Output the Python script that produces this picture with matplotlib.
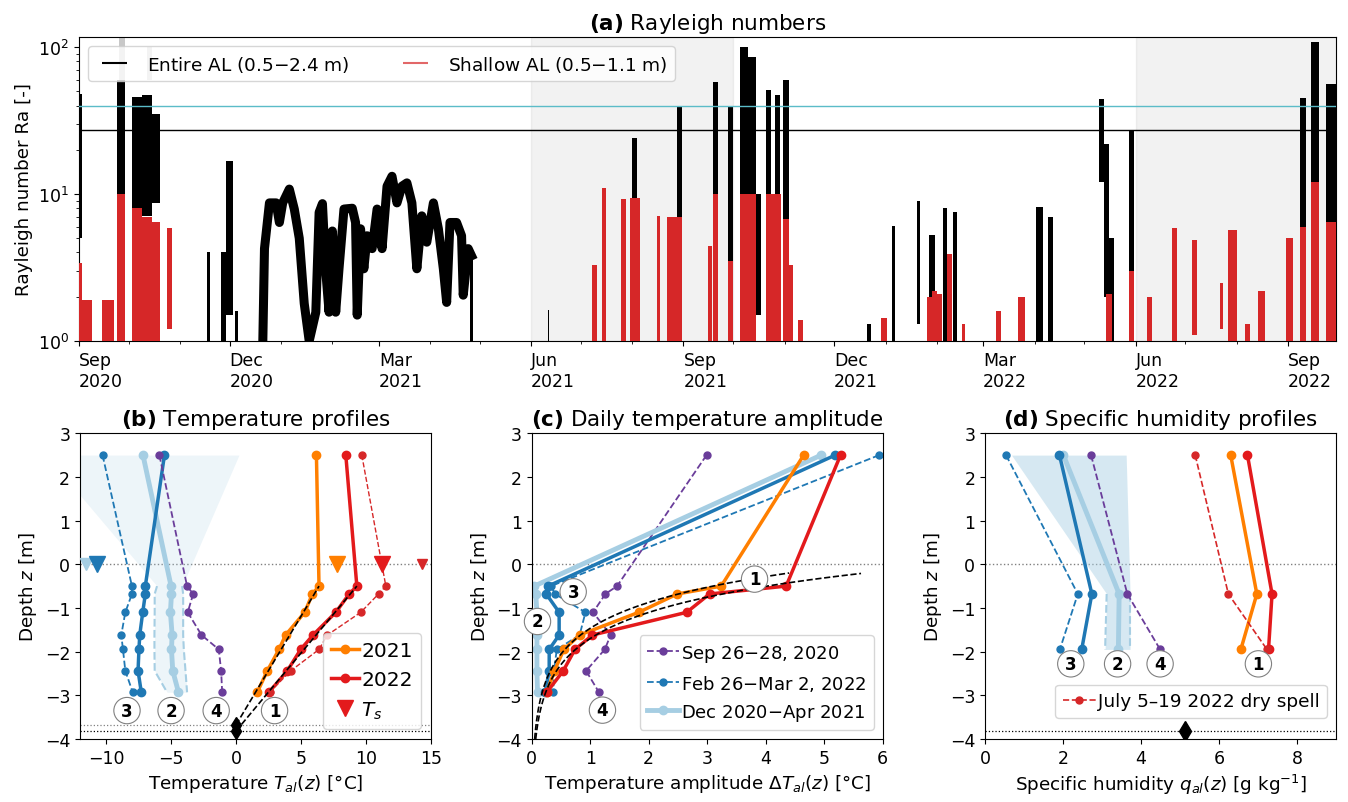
import numpy as np
import pandas as pd
import matplotlib
matplotlib.use('Agg')
import matplotlib.pyplot as plt
import matplotlib.dates as mdates
from matplotlib.lines import Line2D

plt.rcParams['font.family'] = 'DejaVu Sans'
plt.rcParams['font.size'] = 13
plt.rcParams['xtick.labelsize'] = 12.5
plt.rcParams['ytick.labelsize'] = 12.5
plt.rcParams['axes.labelsize'] = 13.2
plt.rcParams['mathtext.fontset'] = 'dejavusans'

# colours (ColorBrewer "Paired")
c_lb = '#a6cee3'
c_db = '#1f78b4'
c_or = '#ff7f00'
c_rd = '#e31a1c'
c_pu = '#6a3d9a'
c_dry = '#d62728'

# ---------------- (a) Rayleigh number episodes ----------------
summer_start = ['2021-06-01', '2022-06-01']
summer_end = ['2021-10-01', '2022-10-01']
ra_crit = [27.1, 4 * np.pi ** 2]

# entire active layer: bursts (start, end, min Ra, max Ra)
bk_start = ['2020-09-01', '2020-09-24', '2020-10-03', '2020-10-09', '2020-10-15',
            '2020-11-17', '2020-11-26', '2020-11-29', '2020-12-04', '2021-04-25',
            '2021-06-11', '2021-08-01', '2021-08-28', '2021-09-19', '2021-09-28',
            '2021-10-05', '2021-10-10', '2021-10-15', '2021-10-21', '2021-10-26',
            '2021-10-31', '2021-12-21', '2022-01-05', '2022-01-20', '2022-01-27',
            '2022-02-05', '2022-02-11', '2022-04-02', '2022-04-09', '2022-05-10',
            '2022-05-13', '2022-05-16', '2022-05-28', '2022-09-08', '2022-09-15',
            '2022-09-24']
bk_end = ['2020-09-03', '2020-09-29', '2020-10-09', '2020-10-15', '2020-10-20',
          '2020-11-19', '2020-11-29', '2020-12-03', '2020-12-06', '2021-04-27',
          '2021-06-12', '2021-08-04', '2021-08-31', '2021-09-22', '2021-10-01',
          '2021-10-10', '2021-10-15', '2021-10-18', '2021-10-24', '2021-10-29',
          '2021-11-04', '2021-12-23', '2022-01-07', '2022-01-22', '2022-01-31',
          '2022-02-07', '2022-02-13', '2022-04-06', '2022-04-12', '2022-05-13',
          '2022-05-16', '2022-05-19', '2022-05-31', '2022-09-12', '2022-09-20',
          '2022-09-30']
bk_lo = [5, 10, 6.4, 7.1, 8.7, 1, 1, 1.5, 1, 1,
         1, 5.5, 6.4, 3, 3.1, 8.7, 8.7, 1.5, 5.5, 5,
         3, 1, 1, 1.3, 1, 1, 1, 1, 1, 12,
         2, 1, 1, 1.3, 2, 1.5]
bk_hi = [48, 60, 46, 47, 35, 4, 4, 16.7, 1.6, 4,
         1.62, 24, 39.5, 58, 40, 100, 86, 10, 51, 47,
         60, 1.3, 6.1, 8.9, 5.3, 8, 7.6, 8.2, 7, 44,
         22, 5, 27, 44.7, 108, 56]

# flagged values (grey)
gr_start = ['2020-09-25', '2020-10-12']
gr_end = ['2020-09-29', '2020-10-15']
gr_lo = [60, 60]
gr_hi = [117, 100]

# winter 2020/21 continuous record
winter_dates = ['2020-12-21', '2020-12-22', '2020-12-25', '2020-12-29', '2020-12-31',
                '2021-01-02', '2021-01-06', '2021-01-09', '2021-01-12', '2021-01-15',
                '2021-01-18', '2021-01-22', '2021-01-24', '2021-01-26', '2021-01-28',
                '2021-01-30', '2021-02-01', '2021-02-03', '2021-02-05', '2021-02-08',
                '2021-02-13', '2021-02-15', '2021-02-16', '2021-02-18', '2021-02-20',
                '2021-02-22', '2021-02-25', '2021-02-28', '2021-03-03', '2021-03-06',
                '2021-03-09', '2021-03-12', '2021-03-15', '2021-03-18', '2021-03-21',
                '2021-03-24', '2021-03-27', '2021-03-30', '2021-04-03', '2021-04-06',
                '2021-04-09', '2021-04-11', '2021-04-13', '2021-04-17', '2021-04-20',
                '2021-04-21', '2021-04-24', '2021-04-26']
winter_ra = [1.0, 4.25, 8.7, 8.7, 6.4, 8.7, 10.8, 7.9, 5.0, 1.8,
             1.0, 1.57, 7.5, 8.6, 3.0, 1.57, 5.6, 1.57, 3.1, 7.9,
             8.0, 6.4, 1.5, 5.8, 3.1, 5.2, 4.25, 7.9, 4.25, 11.3,
             13.2, 8.7, 11.3, 11.9, 8.7, 3.1, 7.1, 4.7, 8.7, 5.8,
             3.1, 1.83, 6.4, 6.4, 5.2, 2.05, 4.25, 3.8]

# shallow active layer bursts
rd_start = ['2020-09-01', '2020-09-03', '2020-09-15', '2020-09-24', '2020-10-03',
            '2020-10-09', '2020-10-15', '2020-10-24', '2021-07-08', '2021-07-14',
            '2021-07-25', '2021-07-31', '2021-08-16', '2021-08-22', '2021-09-16',
            '2021-09-19', '2021-09-28', '2021-10-05', '2021-10-21', '2021-10-31',
            '2021-11-03', '2021-11-09', '2021-12-29', '2022-01-26', '2022-01-29',
            '2022-02-01', '2022-02-07', '2022-02-16', '2022-03-09', '2022-03-22',
            '2022-05-14', '2022-05-28', '2022-06-08', '2022-06-23', '2022-07-05',
            '2022-07-22', '2022-07-27', '2022-08-06', '2022-08-14', '2022-08-31',
            '2022-09-08', '2022-09-15', '2022-09-24']
rd_end = ['2020-09-03', '2020-09-09', '2020-09-22', '2020-09-29', '2020-10-09',
          '2020-10-15', '2020-10-20', '2020-10-27', '2021-07-11', '2021-07-16',
          '2021-07-28', '2021-08-06', '2021-08-18', '2021-08-31', '2021-09-18',
          '2021-09-22', '2021-10-01', '2021-10-15', '2021-10-30', '2021-11-04',
          '2021-11-06', '2021-11-12', '2022-01-02', '2022-01-29', '2022-02-01',
          '2022-02-04', '2022-02-10', '2022-02-18', '2022-03-12', '2022-03-26',
          '2022-05-18', '2022-05-31', '2022-06-11', '2022-06-26', '2022-07-08',
          '2022-07-24', '2022-08-01', '2022-08-09', '2022-08-18', '2022-09-04',
          '2022-09-12', '2022-09-20', '2022-09-30']
rd_lo = [1, 1, 1, 1, 1, 1, 1, 1.2, 1, 1,
         1, 1, 1, 1, 1, 1, 1, 1, 1, 1,
         1, 1, 1, 1, 1, 1, 1, 1, 1, 1,
         1, 1, 1, 1, 1.1, 1.2, 1, 1, 1, 1,
         1, 1, 1]
rd_hi = [3.4, 1.9, 1.9, 10, 8, 7, 6.4, 5.9, 3.3, 11,
         9.2, 9.4, 7.1, 7, 4.4, 10, 3.5, 10, 10, 6.8,
         3.3, 1.4, 1.43, 2, 2.2, 2.1, 3.9, 1.3, 1.6, 2.0,
         2.1, 3, 2, 5.9, 4.9, 2.5, 5.7, 1.3, 2.2, 5,
         6, 12, 6.5]

# ---------------- (b)-(d) profiles ----------------
z_t = [2.5, -0.5, -0.68, -1.1, -1.62, -1.95, -2.44, -2.93]

# (b) temperature [degC]
tb_dec20 = [-7.15, -4.99, -4.96, -5.04, -4.91, -4.96, -4.86, -4.42]
tb_dec20_lo = [-14.6, -6.07, -6.25, -6.25, -6.27, -6.27, -6.25, -5.3]
tb_dec20_hi = [0.23, -4.14, -4.06, -4.06, -4.06, -4.01, -3.88, -3.76]
tb_winter22 = [-5.50, -6.97, -6.97, -7.17, -7.40, -7.46, -7.53, -7.28]
tb_feb22 = [-10.26, -8.0, -8.0, -8.51, -8.82, -8.69, -8.51, -7.94]
tb_sep20 = [-5.89, -3.76, -3.29, -3.71, -2.65, -1.32, -1.14, -1.06]
tb_2021 = [6.19, 6.39, 5.88, 5.29, 3.82, 3.31, 2.41, 1.64]
tb_2022 = [8.45, 9.30, 8.71, 7.68, 5.93, 4.98, 3.95, 2.54]
tb_dry = [9.68, 11.53, 10.97, 9.60, 7.03, 6.39, 4.21, 2.6]
ts_vals = [-11.5, -10.7, 7.8, 11.2, 14.3]
ts_cols = [c_lb, c_db, c_or, c_rd, c_dry]
ts_size = [8, 11, 11, 11, 7]
thaw_depth = [-3.68, -3.82]
lab_b_x = [-8.38, -4.99, -1.52, 2.97]
lab_b_z = [-3.35, -3.35, -3.35, -3.35]

# (c) daily amplitude [degC]
ac_dec20 = [4.95, 0.045, 0.07, 0.09, 0.09, 0.09, 0.09, 0.10]
ac_winter22 = [5.19, 0.28, 0.25, 0.47, 0.47, 0.30, 0.30, 0.23]
ac_feb22 = [5.94, 0.33, 0.40, 0.92, 0.82, 0.43, 0.38, 0.37]
ac_sep20 = [2.99, 1.46, 1.26, 1.05, 1.35, 1.25, 0.93, 1.15]
ac_2021 = [4.65, 3.24, 2.49, 1.83, 0.82, 0.55, 0.39, 0.26]
ac_2022 = [5.28, 4.35, 3.04, 2.65, 1.04, 0.74, 0.54, 0.26]
# exponential damping fits: amplitude at top depth, top depth, damping depth
fit_amp = [4.40, 5.63]
fit_ztop = [-0.2, -0.21]
fit_d = [0.855, 0.863]
lab_c_x = [3.81, 0.71, 0.10, 1.21]
lab_c_z = [-0.34, -0.63, -1.31, -3.34]
lab_c_nums = ['1', '3', '2', '4']

# (d) specific humidity [g/kg]
z_q = [2.5, -0.68, -1.95]
qd_dec20 = [2.01, 3.44, 3.42]
qd_dec20_lo = [0.68, 3.12, 3.08]
qd_dec20_hi = [3.62, 3.72, 3.72]
qd_winter22 = [1.91, 2.74, 2.48]
qd_feb22 = [0.54, 2.38, 1.92]
qd_sep20 = [2.72, 3.65, 4.49]
qd_2021 = [6.30, 6.97, 6.56]
qd_2022 = [6.73, 7.36, 7.27]
qd_dry = [5.39, 6.24, 7.23]
lab_d_x = [2.20, 3.40, 4.49, 7.01]
lab_d_z = [-2.28, -2.28, -2.28, -2.28]
lab_nums = ['3', '2', '4', '1']

fig = plt.figure(figsize=(13.48, 8.03), dpi=100)

# ---------------- panel (a) ----------------
ax = fig.add_axes([0.0586, 0.5741, 0.9325, 0.3786])
for s, e in zip(summer_start, summer_end):
    ax.axvspan(mdates.datestr2num(s), mdates.datestr2num(e), color='gray', alpha=0.1, lw=1, zorder=0)


def draw_bursts(start, end, lo, hi, col, z):
    t0 = mdates.datestr2num(start)
    t1 = mdates.datestr2num(end)
    lo = np.array(lo, dtype=float)
    hi = np.array(hi, dtype=float)
    ax.bar(t0, hi - lo, width=t1 - t0, bottom=lo, align='edge', color=col, lw=0, zorder=z)


draw_bursts(gr_start, gr_end, gr_lo, gr_hi, '#c8c8c8', 2)
draw_bursts(bk_start, bk_end, bk_lo, bk_hi, 'k', 2)
ax.plot(mdates.datestr2num(winter_dates), winter_ra, color='k', lw=6.5, zorder=2)
draw_bursts(rd_start, rd_end, rd_lo, rd_hi, c_dry, 3)

ax.axhline(ra_crit[0], color='k', lw=1, zorder=4)
ax.axhline(ra_crit[1], color='#5bbcc8', lw=1, zorder=4)

ax.set_yscale('log')
ax.set_ylim(1, 117)
ax.set_xlim(mdates.datestr2num('2020-09-01'), mdates.datestr2num('2022-09-30'))
ax.xaxis.set_major_locator(mdates.MonthLocator(bymonth=[3, 6, 9, 12]))
ax.xaxis.set_minor_locator(mdates.MonthLocator())
ax.xaxis.set_major_formatter(mdates.DateFormatter('%b\n%Y'))
plt.setp(ax.get_xticklabels(), ha='left')
ax.set_ylabel('Rayleigh number Ra [-]')
ax.set_title(r'$\bf{(a)}$ Rayleigh numbers', fontsize=15.5)
hnd = [Line2D([], [], color='k', marker='_', ms=18, mew=1.5, ls='none'),
       Line2D([], [], color=c_dry, marker='_', ms=18, mew=1.5, ls='none', alpha=0.7)]
ax.legend(hnd, ['Entire AL (0.5$-$2.4 m)', 'Shallow AL (0.5$-$1.1 m)'], loc='upper left',
          ncol=2, columnspacing=2.5, handletextpad=0.8, fontsize=13.3)


def circled(axx, xs, zs, nums):
    for x, z, t in zip(xs, zs, nums):
        axx.text(x, z, t, ha='center', va='center', fontweight='bold', fontsize=12, zorder=6,
                 bbox=dict(boxstyle='circle,pad=0.25', fc='white', ec='gray', lw=0.8))


def profile_axes(left, xlim, xticks, xlabel, title):
    a = fig.add_axes([left, 0.0785, 0.2604, 0.3807])
    a.set_xlim(*xlim)
    a.set_ylim(-4, 3)
    a.set_xticks(xticks)
    a.set_yticks(range(-4, 4))
    a.set_xlabel(xlabel)
    a.set_ylabel('Depth $z$ [m]')
    a.set_title(title, fontsize=15.5)
    a.axhline(0, color='gray', ls=':', lw=1, zorder=1)
    return a


# ---------------- panel (b) ----------------
axb = profile_axes(0.0593, (-12, 15), [-10, -5, 0, 5, 10, 15],
                   r'Temperature $T_{al}(z)$ [°C]', r'$\bf{(b)}$ Temperature profiles')
axb.fill_betweenx(z_t, tb_dec20_lo, tb_dec20_hi, color=c_lb, alpha=0.2, lw=0)
axb.plot(tb_dec20_lo[1:], z_t[1:], '--', color=c_lb, lw=1.5)
axb.plot(tb_dec20_hi[1:], z_t[1:], '--', color=c_lb, lw=1.5)
axb.axhline(thaw_depth[0], color='gray', ls=':', lw=0.9)
axb.axhline(thaw_depth[1], color='k', ls=':', lw=0.9)
axb.plot([0, tb_2021[1]], [thaw_depth[0], z_t[1]], 'k--', lw=1.2, zorder=5)
axb.plot([0, tb_2022[1]], [thaw_depth[1], z_t[1]], 'k--', lw=1.2, zorder=5)
axb.plot([0, 0], thaw_depth, 'kd', ms=8, zorder=5)
axb.plot(tb_dec20, z_t, '-o', color=c_lb, lw=3.5, ms=6)
axb.plot(tb_winter22, z_t, '-o', color=c_db, lw=2.5, ms=6)
axb.plot(tb_feb22, z_t, '--o', color=c_db, lw=1.3, ms=5)
axb.plot(tb_sep20, z_t, '--o', color=c_pu, lw=1.3, ms=5)
axb.plot(tb_2021, z_t, '-o', color=c_or, lw=2.5, ms=6, label='2021')
axb.plot(tb_2022, z_t, '-o', color=c_rd, lw=2.5, ms=6, label='2022')
axb.plot(tb_dry, z_t, '--o', color=c_dry, lw=1, ms=5)
for v, c, s in zip(ts_vals, ts_cols, ts_size):
    axb.plot(v, 0, 'v', color=c, ms=s, zorder=5)
circled(axb, lab_b_x, lab_b_z, lab_nums)
h, l = axb.get_legend_handles_labels()
h.append(Line2D([], [], color=c_rd, marker='v', ls='none', ms=11))
l.append('$T_s$')
axb.legend(h, l, loc='lower right', fontsize=14.5, handlelength=1.4, handletextpad=0.1)

# ---------------- panel (c) ----------------
axc = profile_axes(0.3944, (0, 6), range(0, 7),
                   r'Temperature amplitude $\Delta T_{al}(z)$ [°C]',
                   r'$\bf{(c)}$ Daily temperature amplitude')
for a0, zt, d in zip(fit_amp, fit_ztop, fit_d):
    zz = np.linspace(-4, zt, 100)
    axc.plot(a0 * np.exp((zz - zt) / d), zz, 'k--', lw=1.2, zorder=5)
axc.plot(ac_sep20, z_t, '--o', color=c_pu, lw=1.3, ms=5, label='Sep 26$-$28, 2020')
axc.plot(ac_feb22, z_t, '--o', color=c_db, lw=1.3, ms=5, label='Feb 26$-$Mar 2, 2022')
axc.plot(ac_dec20, z_t, '-o', color=c_lb, lw=3.5, ms=6, label='Dec 2020$-$Apr 2021')
axc.plot(ac_winter22, z_t, '-o', color=c_db, lw=2.5, ms=6)
axc.plot(ac_2021, z_t, '-o', color=c_or, lw=2.5, ms=6)
axc.plot(ac_2022, z_t, '-o', color=c_rd, lw=2.5, ms=6)
circled(axc, lab_c_x, lab_c_z, lab_c_nums)
axc.legend(loc='lower right', fontsize=13, handlelength=1.8, handletextpad=0.1)

# ---------------- panel (d) ----------------
axd = profile_axes(0.7307, (0, 9), [0, 2, 4, 6, 8],
                   r'Specific humidity $q_{al}(z)$ [g kg$^{-1}$]',
                   r'$\bf{(d)}$ Specific humidity profiles')
axd.fill_betweenx(z_q, qd_dec20_lo, qd_dec20_hi, color=c_lb, alpha=0.45, lw=0)
axd.plot(qd_dec20_lo[1:], z_q[1:], '--', color=c_lb, lw=1.5)
axd.plot(qd_dec20_hi[1:], z_q[1:], '--', color=c_lb, lw=1.5)
axd.axhline(thaw_depth[1], color='k', ls=':', lw=0.9)
axd.plot(5.13, thaw_depth[1], 'kd', ms=10)
axd.plot(qd_dec20, z_q, '-o', color=c_lb, lw=3.5, ms=6)
axd.plot(qd_winter22, z_q, '-o', color=c_db, lw=2.5, ms=6)
axd.plot(qd_feb22, z_q, '--o', color=c_db, lw=1.3, ms=5)
axd.plot(qd_sep20, z_q, '--o', color=c_pu, lw=1.3, ms=5)
axd.plot(qd_2021, z_q, '-o', color=c_or, lw=2.5, ms=6)
axd.plot(qd_2022, z_q, '-o', color=c_rd, lw=2.5, ms=6)
axd.plot(qd_dry, z_q, '--o', color=c_dry, lw=1.2, ms=5, label='July 5–19 2022 dry spell')
circled(axd, lab_d_x, lab_d_z, lab_nums)
axd.legend(loc='lower right', bbox_to_anchor=(1, 0.04), fontsize=13.3,
           handlelength=1.8, handletextpad=0.1)

fig.savefig('out.png', dpi=100)
